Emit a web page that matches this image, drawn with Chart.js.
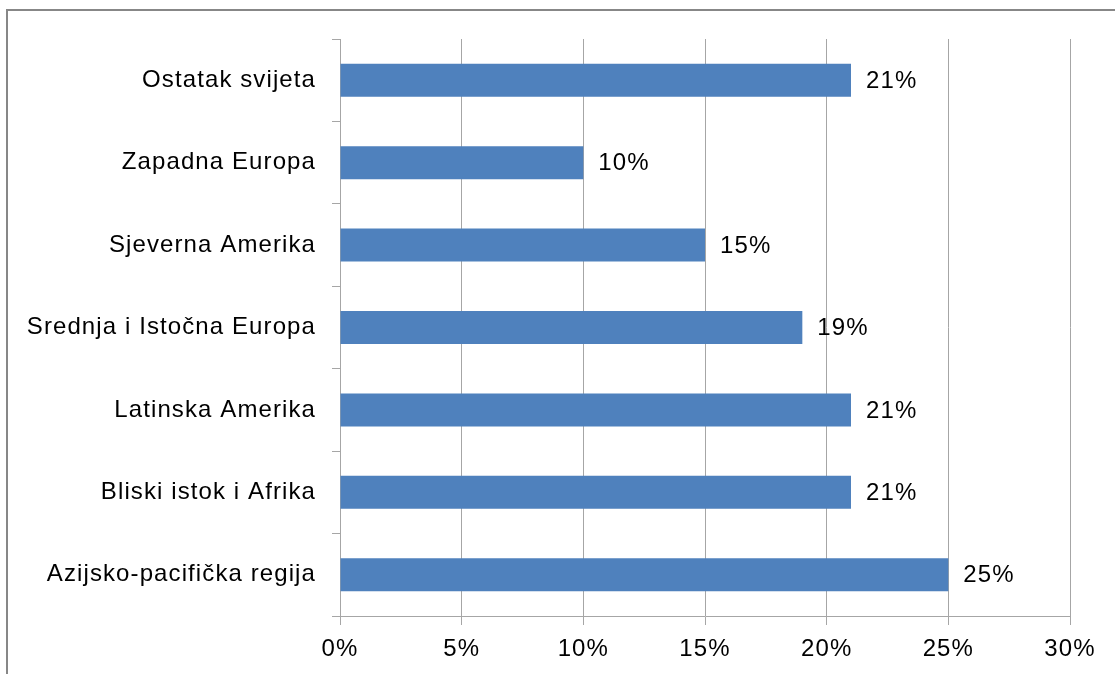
<!DOCTYPE html>
<html>
<head>
<meta charset="utf-8">
<script src="https://cdn.jsdelivr.net/npm/chart.js@4/dist/chart.umd.min.js"></script>
<style>
  html, body { margin: 0; padding: 0; background: #fff; }
  #wrap { position: relative; width: 1115px; height: 674px; overflow: hidden; }
  #frame { position: absolute; left: 6px; top: 9px; width: 1200px; height: 800px;
           border-top: 2px solid #878787; border-left: 2px solid #878787; }
  canvas { position: absolute; left: 0; top: 0; }
</style>
</head>
<body>
<div id="wrap">
  <div id="frame"></div>
  <canvas id="c" width="1115" height="674"></canvas>
</div>
<script>
const categories = [
  "Ostatak svijeta",
  "Zapadna Europa",
  "Sjeverna Amerika",
  "Srednja i Istočna Europa",
  "Latinska Amerika",
  "Bliski istok i Afrika",
  "Azijsko-pacifička regija"
];
const values = [21, 10, 15, 19, 21, 21, 25];
const xTickMin = 0;
const xTickMax = 30;
const xTickStep = 5;

const FONT = "'Liberation Sans', Arial, sans-serif";
const SPACING = "1.1px";
const GRID = "#a6a6a6";

Chart.defaults.font.family = FONT;
Chart.defaults.font.size = 24;
Chart.defaults.color = "#000";

const spacingPlugin = {
  id: "spacing",
  beforeLayout(chart) { chart.ctx.letterSpacing = SPACING; },
  beforeDraw(chart) { chart.ctx.letterSpacing = SPACING; }
};

const labelPlugin = {
  id: "valueLabels",
  afterDatasetsDraw(chart) {
    const ctx = chart.ctx;
    const meta = chart.getDatasetMeta(0);
    ctx.save();
    ctx.letterSpacing = SPACING;
    ctx.font = "24px " + FONT;
    ctx.fillStyle = "#000";
    ctx.textAlign = "left";
    ctx.textBaseline = "middle";
    meta.data.forEach((bar, i) => {
      ctx.fillText(values[i] + "%", bar.x + 15, bar.y + 1);
    });
    ctx.restore();
  }
};

new Chart(document.getElementById("c"), {
  type: "bar",
  data: {
    labels: categories,
    datasets: [{
      data: values,
      backgroundColor: "#4f81bd",
      borderWidth: 0,
      categoryPercentage: 1,
      barPercentage: 0.4
    }]
  },
  options: {
    indexAxis: "y",
    responsive: false,
    animation: false,
    layout: { padding: { top: 39, right: 45, left: 0, bottom: 0 } },
    plugins: { legend: { display: false }, tooltip: { enabled: false } },
    scales: {
      x: {
        min: xTickMin,
        max: xTickMax,
        ticks: {
          stepSize: xTickStep,
          padding: 10,
          callback: v => v + "%"
        },
        grid: { color: GRID, lineWidth: 1, tickLength: 9 },
        border: { color: GRID, width: 1 },
        afterFit(s) { s.height = 58; }
      },
      y: {
        ticks: { padding: 16 },
        grid: { drawOnChartArea: false, drawTicks: true, tickLength: 8, color: GRID, offset: true },
        border: { color: GRID, width: 1 },
        afterFit(s) { s.width = 340; }
      }
    }
  },
  plugins: [spacingPlugin, labelPlugin]
});
</script>
</body>
</html>
